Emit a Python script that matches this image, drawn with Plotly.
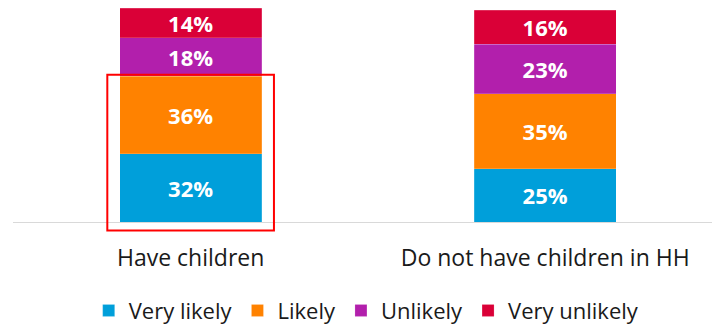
import plotly.graph_objects as go

# Survey responses by household type (percent of respondents)
categories = ["Have children", "Do not have children in HH"]
series_names = ["Very likely", "Likely", "Unlikely", "Very unlikely"]
very_likely = [32, 25]
likely = [36, 35]
unlikely = [18, 23]
very_unlikely = [14, 16]
series_values = [very_likely, likely, unlikely, very_unlikely]
series_colors = ["#009FDA", "#FF8200", "#B21FAC", "#DA0037"]

FONT = "Open Sans"
TEXT_SIZE = 23
LEGEND_SIZE = 22
LABEL_SIZE = 22

fig = go.Figure()
for name, vals, col in zip(series_names, series_values, series_colors):
    fig.add_trace(go.Bar(
        x=categories,
        y=vals,
        name=name,
        marker=dict(color=col, line=dict(color="rgba(255,255,255,0.35)", width=0.5)),
        text=[f"{v}%" for v in vals],
        textposition="inside",
        insidetextanchor="middle",
        textangle=0,
        textfont=dict(family=FONT, size=LABEL_SIZE, color="white", weight="bold"),
        hovertemplate="%{x}<br>" + name + ": %{y}%<extra></extra>",
    ))

# Highlight box around the two "likely" segments of the first group
hl_top = (very_likely[0] + likely[0]) / 100.0
half_w = 0.2 + 0.035
fig.add_shape(
    type="rect",
    xref="x", yref="paper",
    x0=-half_w, x1=half_w,
    y0=-0.04, y1=hl_top + 0.008,
    line=dict(color="#FF0000", width=2),
    fillcolor="rgba(0,0,0,0)",
    layer="above",
)

fig.update_layout(
    width=712,
    height=326,
    margin=dict(l=13, r=0, t=8, b=104, autoexpand=False),
    barmode="stack",
    bargap=0.6,
    plot_bgcolor="white",
    paper_bgcolor="white",
    font=dict(family=FONT, size=TEXT_SIZE, color="#1a1a1a"),
    uniformtext=dict(minsize=LABEL_SIZE, mode="show"),
    showlegend=True,
    legend=dict(
        orientation="h",
        xref="container", yref="paper",
        x=0.515, xanchor="center",
        y=-0.414, yanchor="middle",
        font=dict(family=FONT, size=LEGEND_SIZE, color="#1a1a1a"),
        traceorder="normal",
        itemclick=False,
        bgcolor="rgba(0,0,0,0)",
    ),
    xaxis=dict(
        type="category",
        range=[-0.501, 1.4705],
        showline=True,
        linecolor="#d9d9d9",
        linewidth=1,
        ticks="",
        showgrid=False,
        tickfont=dict(family=FONT, size=TEXT_SIZE, color="#1a1a1a"),
        ticklabelstandoff=15,
    ),
    yaxis=dict(
        range=[0, 100],
        visible=False,
        showgrid=False,
        zeroline=False,
    ),
)

fig.write_html("out.html")
